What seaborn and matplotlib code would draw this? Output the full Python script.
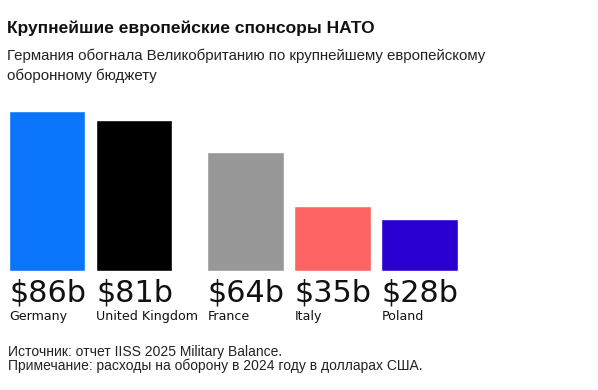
import numpy as np
import pandas as pd
import matplotlib
matplotlib.use("Agg")
import matplotlib.pyplot as plt
import seaborn as sns

# data
countries = ["Germany", "United Kingdom", "France", "Italy", "Poland"]
spend_bn = [86, 81, 64, 35, 28]
value_labels = ["$86b", "$81b", "$64b", "$35b", "$28b"]
colors = ["#0A74FA", "#000000", "#989898", "#FF6464", "#2A00D2"]

title = "Крупнейшие европейские спонсоры НАТО"
subtitle = ["Германия обогнала Великобританию по крупнейшему европейскому",
            "оборонному бюджету"]
footer = ["Источник: отчет IISS 2025 Military Balance.",
          "Примечание: расходы на оборону в 2024 году в долларах США."]

sns.set_style("white")
plt.rcParams["font.family"] = ["Liberation Sans", "DejaVu Sans"]

# extra room after the UK bar so its long label fits
pos = np.arange(len(countries)) + 0.28 * (np.arange(len(countries)) > 1)
bar_w = 0.88

df = pd.DataFrame({"pos": pos, "spend": spend_bn, "country": countries})

W, H = 598, 390
fig = plt.figure(figsize=(W / 100, H / 100), dpi=100)
unit = 87.0
left_px = 47 - bar_w / 2 * unit
ax_w = (pos[-1] - pos[0] + bar_w) * unit
ax = fig.add_axes([left_px / W, (H - 271) / H, ax_w / W, 160 / H])

sns.barplot(data=df, x="pos", y="spend", hue="country", native_scale=True,
            palette=dict(zip(countries, colors)), width=bar_w, legend=False,
            saturation=1, ax=ax)
ax.set_xlim(pos[0] - bar_w / 2, pos[-1] + bar_w / 2)
ax.set_ylim(0, max(spend_bn))
ax.axis("off")

for p, lab, name in zip(pos, value_labels, countries):
    x0 = p - bar_w / 2
    ax.annotate(lab, xy=(x0, 0), xytext=(0.3, -21.7), textcoords="offset points",
                ha="left", va="baseline", fontsize=21.8, family="DejaVu Sans",
                color="#111111")
    ax.annotate(name, xy=(x0, 0), xytext=(0.5, -35.3), textcoords="offset points",
                ha="left", va="baseline", fontsize=9.1, family="DejaVu Sans",
                color="#111111")

def fy(px):
    return 1 - px / H

fig.text(7 / W, fy(33), title, fontsize=12.5, fontweight="bold",
         va="baseline", color="#111111")
fig.text(7 / W, fy(60), subtitle[0], fontsize=10.8, va="baseline", color="#222222")
fig.text(7 / W, fy(80), subtitle[1], fontsize=10.8, va="baseline", color="#222222")
fig.text(8 / W, fy(356), footer[0], fontsize=10, va="baseline", color="#222222")
fig.text(8 / W, fy(370), footer[1], fontsize=10, va="baseline", color="#222222")

fig.savefig("out.png", dpi=100)
